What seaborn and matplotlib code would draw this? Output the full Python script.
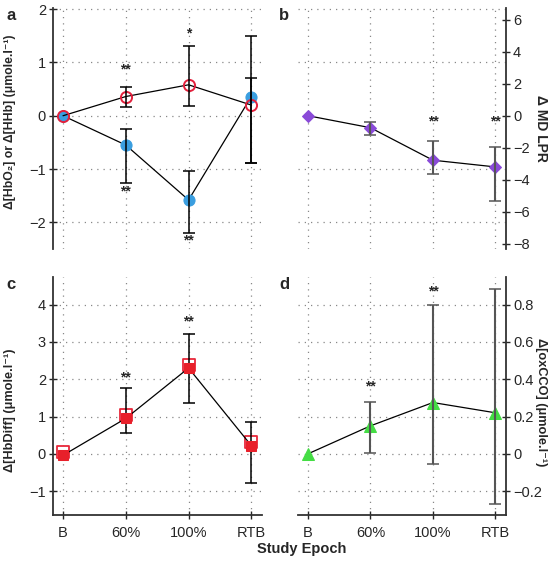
import numpy as np
import pandas as pd
import seaborn as sns
from matplotlib import pyplot as plt
from matplotlib import ticker

epochs = ['B', '60%', '100%', 'RTB']

# panel a  (baseline has no spread)
hbo2 = [0.0, 0.36, 0.58, 0.20]
hbo2_lo = [0.0, 0.17, 0.19, -0.89]
hbo2_hi = [0.0, 0.53, 1.31, 0.70]
hhb = [0.0, -0.55, -1.58, 0.36]
hhb_lo = [0.0, -1.27, -2.20, -0.89]
hhb_hi = [0.0, -0.24, -1.03, 1.49]
stars_a = [('**', 1, 0.86), ('**', 1, -1.42), ('*', 2, 1.55), ('**', 2, -2.34)]

# panel b
lpr = [0.0, -0.75, -2.78, -3.20]
lpr_lo = [0.0, -1.20, -3.65, -5.31]
lpr_hi = [0.0, -0.41, -1.60, -1.97]
stars_b = [('**', 2, -0.35), ('**', 3, -0.35)]

# panel c
hbdiff_open = [0.05, 1.03, 2.39, 0.32]
hbdiff = [-0.04, 0.95, 2.30, 0.22]
hbdiff_lo = [-0.04, 0.55, 1.37, -0.78]
hbdiff_hi = [-0.04, 1.77, 3.20, 0.84]
stars_c = [('**', 1, 2.06), ('**', 2, 3.56)]

# panel d
oxcco = [0.0, 0.15, 0.275, 0.22]
oxcco_lo = [0.0, 0.007, -0.054, -0.27]
oxcco_hi = [0.0, 0.28, 0.80, 0.886]
stars_d = [('**', 1, 0.36), ('**', 2, 0.87)]

sns.set_style('white')
plt.rcParams['font.family'] = ['Liberation Sans', 'DejaVu Sans']
plt.rcParams['font.size'] = 10

x = np.arange(len(epochs))
fig = plt.figure(figsize=(5.53, 5.61), dpi=100)
ax_a = fig.add_axes([0.0958, 0.5561, 0.378, 0.4296])
ax_b = fig.add_axes([0.5389, 0.5561, 0.3761, 0.4296])
ax_c = fig.add_axes([0.0958, 0.082, 0.378, 0.4242])
ax_d = fig.add_axes([0.5389, 0.082, 0.3761, 0.4242])

grid_kw = dict(color='#888888', linestyle=(0, (1, 4)), linewidth=0.9)


def style(ax, side, bottom):
    for s in ['top', 'right', 'left', 'bottom']:
        ax.spines[s].set_visible(False)
    ax.spines[side].set_visible(True)
    ax.spines[side].set_color('#333333')
    ax.spines[side].set_linewidth(1.3)
    ax.set_xticks(x)
    if bottom:
        ax.spines['bottom'].set_visible(True)
        ax.spines['bottom'].set_color('#333333')
        ax.spines['bottom'].set_linewidth(1.3)
        ax.set_xticklabels(epochs)
        ax.tick_params(axis='x', direction='inout', length=6, width=1, pad=5,
                       labelsize=10.5, bottom=True)
    else:
        ax.tick_params(axis='x', bottom=False, labelbottom=False)
    if side == 'right':
        ax.yaxis.tick_right()
        ax.yaxis.set_label_position('right')
    ax.tick_params(axis='y', direction='inout', length=6, width=1, pad=2,
                   labelsize=10.5, left=(side == 'left'), right=(side == 'right'))
    ax.set_xlim(-0.16, 3.17)
    ax.xaxis.grid(True, **grid_kw)
    ax.set_xlabel('')


def errs(ax, vals, lo, hi, color, lw):
    vals = np.array(vals)[1:]
    yerr = np.vstack([vals - np.array(lo)[1:], np.array(hi)[1:] - vals])
    ax.errorbar(x[1:], vals, yerr=yerr, fmt='none', ecolor=color, elinewidth=lw,
                capsize=4, capthick=1.1, zorder=4)


def stars(ax, items):
    for s, xi, yi in items:
        ax.text(xi, yi, s, ha='center', va='center', fontsize=10, fontweight='bold')


fmt = ticker.FuncFormatter(lambda v, p: ('%g' % round(v, 3)).replace('-', '\u2212'))

# a
df_a = pd.DataFrame({'x': x, 'hbo2': hbo2, 'hhb': hhb})
errs(ax_a, hhb, hhb_lo, hhb_hi, 'black', 1.1)
errs(ax_a, hbo2, hbo2_lo, hbo2_hi, 'black', 1.1)
sns.lineplot(data=df_a, x='x', y='hhb', ax=ax_a, color='black', linewidth=0.9,
             marker='o', markersize=8, markerfacecolor='#3a9ee0',
             markeredgecolor='#3a9ee0', sort=False, zorder=3)
sns.lineplot(data=df_a, x='x', y='hbo2', ax=ax_a, color='black', linewidth=0.9,
             marker='o', markersize=8, markerfacecolor='none',
             markeredgecolor='#e2203c', markeredgewidth=1.4, sort=False, zorder=3)
ax_a.set_ylim(-2.5, 2.02)
ax_a.set_yticks([-2, -1, 0, 1, 2])
ax_a.yaxis.set_major_formatter(fmt)
style(ax_a, 'left', False)
ax_a.yaxis.grid(True, **grid_kw)
ax_a.set_ylabel('\u0394[HbO\u2082] or \u0394[HHb] (\u03bcmole.l\u207b\u00b9)',
                fontweight='bold', fontsize=8.8)
ax_a.yaxis.set_label_coords(-0.175, 0.53)
stars(ax_a, stars_a)

# b
df_b = pd.DataFrame({'x': x, 'lpr': lpr})
errs(ax_b, lpr, lpr_lo, lpr_hi, '#555555', 1.5)
sns.lineplot(data=df_b, x='x', y='lpr', ax=ax_b, color='black', linewidth=0.9,
             marker='D', markersize=6.5, markerfacecolor='#8a4ad8',
             markeredgecolor='#8a4ad8', sort=False, zorder=3)
ax_b.set_ylim(-8.333, 6.733)
ax_b.set_yticks(np.arange(-8, 7, 2))
ax_b.yaxis.set_major_formatter(fmt)
style(ax_b, 'right', False)
ax_b.yaxis.set_minor_locator(ticker.FixedLocator([-20 / 3, -10 / 3, 0, 10 / 3, 20 / 3]))
ax_b.tick_params(axis='y', which='minor', length=0)
ax_b.yaxis.grid(True, which='minor', **grid_kw)
ax_b.set_ylabel('\u0394 MD LPR', fontweight='bold', fontsize=10, rotation=270,
                va='center')
ax_b.yaxis.set_label_coords(1.17, 0.5)
stars(ax_b, stars_b)

# c
df_c = pd.DataFrame({'x': x, 'open': hbdiff_open, 'fill': hbdiff})
errs(ax_c, hbdiff, hbdiff_lo, hbdiff_hi, 'black', 1.1)
sns.scatterplot(data=df_c, x='x', y='open', ax=ax_c, marker='s', s=70,
                facecolor='white', edgecolor='#e8283a', linewidth=1.3, zorder=3)
sns.lineplot(data=df_c, x='x', y='fill', ax=ax_c, color='black', linewidth=0.9,
             marker='s', markersize=7, markerfacecolor='#e8202a',
             markeredgecolor='#e8202a', sort=False, zorder=5)
ax_c.set_ylim(-1.64, 4.74)
ax_c.set_yticks([-1, 0, 1, 2, 3, 4])
ax_c.yaxis.set_major_formatter(fmt)
style(ax_c, 'left', True)
ax_c.yaxis.grid(True, **grid_kw)
ax_c.set_ylabel('\u0394[HbDiff] (\u03bcmole.l\u207b\u00b9)', fontweight='bold',
                fontsize=9.2)
ax_c.yaxis.set_label_coords(-0.175, 0.44)
stars(ax_c, stars_c)

# d
df_d = pd.DataFrame({'x': x, 'ox': oxcco})
errs(ax_d, oxcco, oxcco_lo, oxcco_hi, '#555555', 1.5)
sns.lineplot(data=df_d, x='x', y='ox', ax=ax_d, color='black', linewidth=0.9,
             marker='^', markersize=8, markerfacecolor='#44dd44',
             markeredgecolor='#44dd44', sort=False, zorder=3)
ax_d.set_ylim(-0.328, 0.948)
ax_d.set_yticks([-0.2, 0, 0.2, 0.4, 0.6, 0.8])
ax_d.yaxis.set_major_formatter(fmt)
style(ax_d, 'right', True)
ax_d.yaxis.grid(True, **grid_kw)
ax_d.set_ylabel('\u0394[oxCCO] (\u03bcmole.l\u207b\u00b9)', fontweight='bold',
                fontsize=9.2, rotation=270, va='center')
ax_d.yaxis.set_label_coords(1.17, 0.475)
stars(ax_d, stars_d)

for letter, xp, yp in [('a', 0.012, 0.985), ('b', 0.505, 0.985),
                       ('c', 0.012, 0.507), ('d', 0.505, 0.507)]:
    fig.text(xp, yp, letter, fontsize=12, fontweight='bold', va='top')

fig.text(0.546, 0.022, 'Study Epoch', ha='center', va='center', fontsize=10.5,
         fontweight='bold')

fig.savefig('out.png', dpi=100)
